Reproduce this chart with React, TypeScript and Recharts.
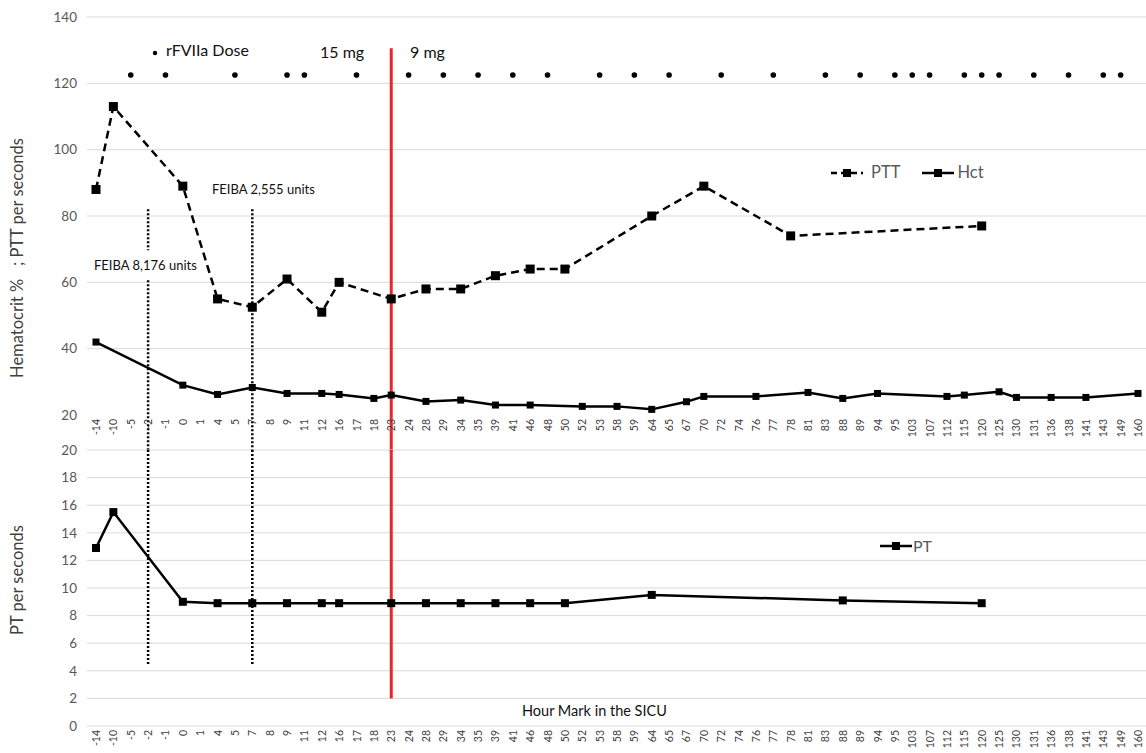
import React from 'react';
import { ComposedChart, Line, XAxis, YAxis, CartesianGrid, ReferenceLine } from 'recharts';

const hours = [
  '-14', '-10', '-5', '-2', '-1', '0', '1', '4', '5', '7', '8', '9', '11', '12', '16', '17', '18', '23', '24', '28',
  '29', '34', '35', '39', '41', '46', '48', '50', '52', '53', '58', '59', '64', '65', '67', '70', '72', '74', '76', '77',
  '78', '81', '83', '88', '89', '94', '95', '103', '107', '112', '115', '120', '125', '130', '131', '136', '138', '141', '143', '149', '160',
];

const pttHours = ['-14', '-10', '0', '4', '7', '9', '12', '16', '23', '28', '34', '39', '46', '50', '64', '70', '78', '120'];
const pttValues = [88, 113, 89, 55, 52.5, 61, 51, 60, 55, 58, 58, 62, 64, 64, 80, 89, 74, 77];

const hctHours = ['-14', '0', '4', '7', '9', '12', '16', '18', '23', '28', '34', '39', '46', '52', '58', '64', '67', '70', '76', '81', '88', '94', '112', '115', '125', '130', '136', '141', '160'];
const hctValues = [42, 29, 26.2, 28.3, 26.5, 26.5, 26.2, 25, 26, 24.1, 24.5, 23, 23, 22.6, 22.6, 21.7, 24, 25.6, 25.6, 26.8, 25, 26.5, 25.6, 26, 27, 25.3, 25.3, 25.3, 26.5];

const doseHours = ['-5', '-1', '5', '9', '11', '17', '24', '29', '35', '41', '48', '53', '59', '65', '72', '77', '83', '89', '95', '103', '107', '115', '120', '125', '131', '138', '143', '149'];
const doseLevel = 122.5;

const ptHours = ['-14', '-10', '0', '4', '7', '9', '12', '16', '23', '28', '34', '39', '46', '50', '64', '88', '120'];
const ptValues = [12.9, 15.5, 9, 8.9, 8.9, 8.9, 8.9, 8.9, 8.9, 8.9, 8.9, 8.9, 8.9, 8.9, 9.5, 9.1, 8.9];

const topTicks = [20, 40, 60, 80, 100, 120, 140];
const bottomTicks = [0, 2, 4, 6, 8, 10, 12, 14, 16, 18, 20];

const pick = (keys: string[], vals: number[], h: string) => {
  const i = keys.indexOf(h);
  return i >= 0 ? vals[i] : null;
};

const data = hours.map((h) => ({
  hour: h,
  ptt: pick(pttHours, pttValues, h),
  hct: pick(hctHours, hctValues, h),
  dose: doseHours.includes(h) ? doseLevel : null,
  pt: pick(ptHours, ptValues, h),
}));

const FONT = 'Lato, "Open Sans", sans-serif';

const XTick = (props: any) => {
  const { x, y, payload } = props;
  return (
    <text
      transform={`translate(${x},${y}) rotate(-90)`}
      textAnchor="end"
      dominantBaseline="central"
      fontSize={10.5}
      fill="#404040"
      fontFamily={FONT}
    >
      {payload.value}
    </text>
  );
};

const square = (size: number) => (props: any) => {
  const { cx, cy, value, index } = props;
  if (value == null || cy == null || cx == null) return <g key={`e-${index}`} />;
  return <rect key={`s-${index}`} x={cx - size / 2} y={cy - size / 2} width={size} height={size} fill="#000" />;
};

const roundDot = (props: any) => {
  const { cx, cy, value, index } = props;
  if (value == null || cy == null || cx == null) return <g key={`e-${index}`} />;
  return <circle key={`c-${index}`} cx={cx} cy={cy} r={2.8} fill="#000" />;
};

const yTick = { fontSize: 13.5, fill: '#595959', fontFamily: FONT };
const xPad = { left: 9, right: 8 };
const dotted = { stroke: '#000', strokeWidth: 2.5, strokeDasharray: '2 2' };

const LegendLine = ({ dashed }: { dashed?: boolean }) => (
  <svg width={32} height={10} style={{ display: 'block' }}>
    <line x1={0} y1={5} x2={32} y2={5} stroke="#000" strokeWidth={2.5} strokeDasharray={dashed ? '6 4' : undefined} />
    <rect x={12} y={1} width={8} height={8} fill="#000" />
  </svg>
);

const abs = (left: number, top: number, extra: React.CSSProperties = {}): React.CSSProperties => ({
  position: 'absolute',
  left,
  top,
  fontFamily: FONT,
  whiteSpace: 'nowrap',
  lineHeight: 1.2,
  ...extra,
});

export default function App() {
  return (
    <div style={{ position: 'absolute', left: 0, top: 0, width: 1146, height: 753, background: '#fff', overflow: 'hidden' }}>
      <div style={{ position: 'absolute', left: 0, top: 0 }}>
        <ComposedChart width={1146} height={452} data={data} margin={{ top: 17, right: 0, bottom: 0, left: 0 }}>
          <CartesianGrid vertical={false} stroke="#d9d9d9" horizontalValues={[40, 60, 80, 100, 120, 140]} />
          <XAxis dataKey="hour" interval={0} height={37} padding={xPad} tickLine={false} axisLine={false} tickSize={0} tickMargin={4} tick={<XTick />} />
          <YAxis domain={[20, 140]} ticks={topTicks} width={87} tickLine={false} axisLine={false} tickSize={0} tickMargin={10} tick={yTick} />
          <ReferenceLine segment={[{ x: '-2', y: 82 }, { x: '-2', y: 69.7 }]} ifOverflow="visible" {...dotted} />
          <ReferenceLine segment={[{ x: '-2', y: 60.6 }, { x: '-2', y: 8.8 }]} ifOverflow="visible" {...dotted} />
          <ReferenceLine segment={[{ x: '7', y: 82 }, { x: '7', y: 8.8 }]} ifOverflow="visible" {...dotted} />
          <ReferenceLine segment={[{ x: '23', y: 130.6 }, { x: '23', y: 8.8 }]} ifOverflow="visible" stroke="#e8262b" strokeWidth={3} />
          <Line dataKey="hct" stroke="#000" strokeWidth={2.5} connectNulls dot={square(7)} activeDot={false} isAnimationActive={false} />
          <Line dataKey="ptt" stroke="#000" strokeWidth={2.5} strokeDasharray="8 5" connectNulls dot={square(9)} activeDot={false} isAnimationActive={false} />
          <Line dataKey="dose" stroke="none" dot={roundDot} activeDot={false} isAnimationActive={false} />
        </ComposedChart>
      </div>
      <div style={{ position: 'absolute', left: 0, top: 440 }}>
        <ComposedChart width={1146} height={313} data={data} margin={{ top: 10, right: 0, bottom: 0, left: 0 }}>
          <CartesianGrid vertical={false} stroke="#d9d9d9" />
          <XAxis dataKey="hour" interval={0} height={27} padding={xPad} tickLine={false} axisLine={false} tickSize={0} tickMargin={4} tick={<XTick />} />
          <YAxis domain={[0, 20]} ticks={bottomTicks} width={87} tickLine={false} axisLine={false} tickSize={0} tickMargin={10} tick={yTick} />
          <ReferenceLine segment={[{ x: '-2', y: 20 }, { x: '-2', y: 4.4 }]} ifOverflow="visible" {...dotted} />
          <ReferenceLine segment={[{ x: '7', y: 20 }, { x: '7', y: 4.4 }]} ifOverflow="visible" {...dotted} />
          <ReferenceLine segment={[{ x: '23', y: 20 }, { x: '23', y: 2 }]} ifOverflow="visible" stroke="#e8262b" strokeWidth={3} />
          <Line dataKey="pt" stroke="#000" strokeWidth={2.5} connectNulls dot={square(8)} activeDot={false} isAnimationActive={false} />
        </ComposedChart>
      </div>

      {/* annotations */}
      <div style={abs(152, 50)}>
        <svg width={6} height={6} style={{ display: 'block' }}><circle cx={3} cy={3} r={2.2} fill="#000" /></svg>
      </div>
      <div style={abs(166, 40, { fontSize: 16, color: '#111' })}>rFVIIa Dose</div>
      <div style={abs(320, 42, { fontSize: 16, color: '#111' })}>15 mg</div>
      <div style={abs(410, 42, { fontSize: 16, color: '#111' })}>9 mg</div>
      <div style={abs(212, 182, { fontSize: 13, color: '#111' })}>FEIBA 2,555 units</div>
      <div style={abs(94, 258, { fontSize: 13, color: '#111' })}>FEIBA 8,176 units</div>
      <div style={abs(522, 702, { fontSize: 14.5, color: '#111' })}>Hour Mark in the SICU</div>

      {/* legends */}
      <div style={abs(831, 163, { display: 'flex', alignItems: 'center', fontSize: 16.5, color: '#595959' })}>
        <LegendLine dashed />
        <span style={{ marginLeft: 8, marginRight: 22 }}>PTT</span>
        <LegendLine />
        <span style={{ marginLeft: 3 }}>Hct</span>
      </div>
      <div style={abs(880, 536, { display: 'flex', alignItems: 'center', fontSize: 16, color: '#595959' })}>
        <LegendLine />
        <span style={{ marginLeft: 1 }}>PT</span>
      </div>

      {/* axis titles */}
      <div style={abs(18, 258, { fontSize: 16.5, color: '#404040', transform: 'translate(-50%, -50%) rotate(-90deg)' })}>
        Hematocrit %&nbsp;&nbsp;&nbsp;; PTT per seconds
      </div>
      <div style={abs(18, 580, { fontSize: 16.5, color: '#404040', transform: 'translate(-50%, -50%) rotate(-90deg)' })}>
        PT per seconds
      </div>
    </div>
  );
}
